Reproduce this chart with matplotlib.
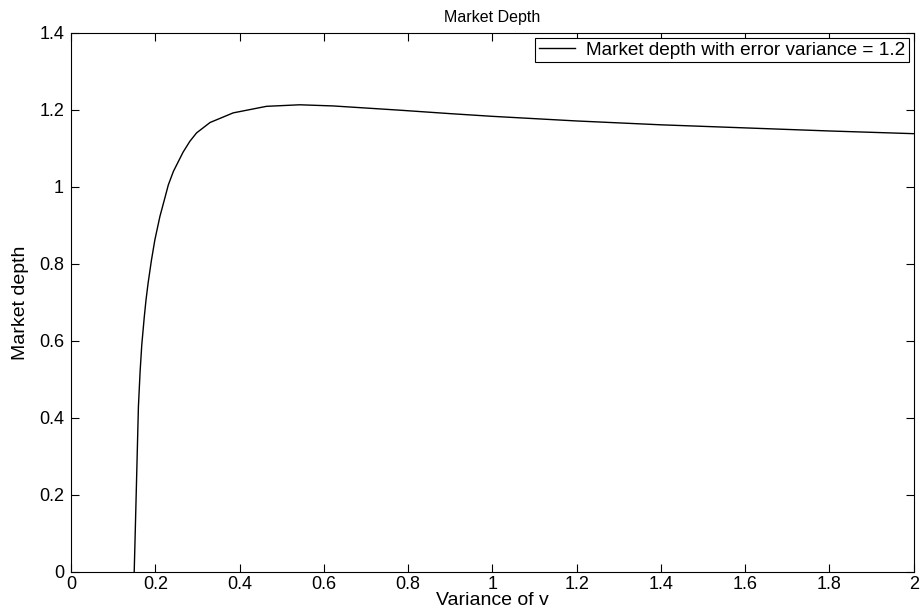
import matplotlib.pyplot as plt
import numpy as np

# curve (variance of v -> market depth)
variance_v = [0.150, 0.152, 0.156, 0.160, 0.164, 0.168, 0.174, 0.178, 0.183,
              0.191, 0.199, 0.211, 0.223, 0.231, 0.243, 0.266, 0.282, 0.298,
              0.330, 0.385, 0.464, 0.543, 0.622, 0.780, 0.900, 1.000, 1.200,
              1.400, 1.600, 1.800, 2.000]
market_depth = [0.000, 0.083, 0.256, 0.429, 0.520, 0.590, 0.663, 0.706, 0.750,
                0.810, 0.862, 0.923, 0.972, 1.005, 1.040, 1.090, 1.118, 1.140,
                1.167, 1.192, 1.209, 1.213, 1.210, 1.199, 1.190, 1.183, 1.171,
                1.161, 1.153, 1.145, 1.138]

x_ticks = [0, 0.2, 0.4, 0.6, 0.8, 1, 1.2, 1.4, 1.6, 1.8, 2]
x_labels = ['0', '0.2', '0.4', '0.6', '0.8', '1', '1.2', '1.4', '1.6', '1.8', '2']
y_ticks = [0, 0.2, 0.4, 0.6, 0.8, 1, 1.2, 1.4]
y_labels = ['0', '0.2', '0.4', '0.6', '0.8', '1', '1.2', '1.4']

plt.rcParams['font.family'] = ['Liberation Sans', 'DejaVu Sans']

fig = plt.figure(figsize=(9.22, 6.10), dpi=100)
ax = fig.add_axes([0.077, 0.0623, 0.914, 0.884])

ax.plot(variance_v, market_depth, color='black', linewidth=1.0,
        label='Market depth with error variance = 1.2')

ax.set_xlim(0, 2)
ax.set_ylim(0, 1.4)
ax.set_xticks(x_ticks)
ax.set_xticklabels(x_labels)
ax.set_yticks(y_ticks)
ax.set_yticklabels(y_labels)
ax.tick_params(direction='in', top=True, right=True, length=6, width=0.8,
               labelsize=13)
ax.tick_params(axis='y', pad=5)
ax.tick_params(axis='x', pad=3)

for s in ax.spines.values():
    s.set_linewidth(0.8)

ax.set_title('Market Depth', fontsize=11.5, pad=8)
ax.set_xlabel('Variance of v', fontsize=14, labelpad=-1)
ax.set_ylabel('Market depth', fontsize=14, labelpad=7)

leg = ax.legend(loc='upper right', fontsize=13.7, fancybox=False, framealpha=1,
                edgecolor='black', borderaxespad=0.25, handlelength=1.9,
                borderpad=0.2, handletextpad=0.55)
leg.get_frame().set_linewidth(0.8)

fig.savefig('out.png', dpi=100)
